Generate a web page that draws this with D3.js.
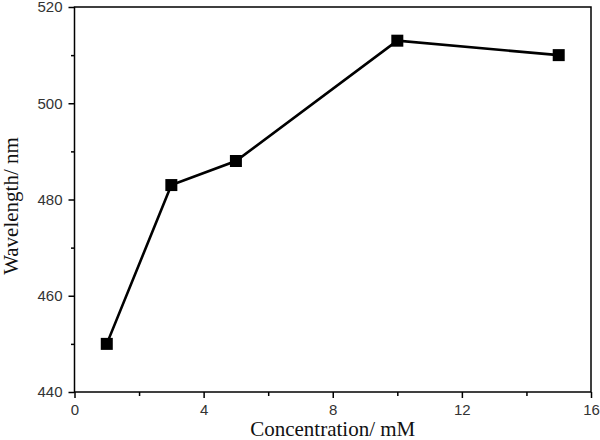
<!DOCTYPE html>
<html>
<head>
<meta charset="utf-8">
<script src="https://cdn.jsdelivr.net/npm/d3@7"></script>
<style>
  html, body { margin: 0; padding: 0; background: #fff; }
  svg { display: block; }
</style>
</head>
<body>
<svg id="chart" width="600" height="440"></svg>
<script>
const concentration = [1, 3, 5, 10, 15];
const wavelength = [450, 483, 488, 513, 510];
const xMajorTicks = [0, 4, 8, 12, 16];
const xMinorTicks = [2, 6, 10, 14];
const yMajorTicks = [440, 460, 480, 500, 520];
const yMinorTicks = [450, 470, 490, 510];
const xTitle = "Concentration/ mM";
const yTitle = "Wavelength/ nm";

const svg = d3.select("#chart");
const L = 74.5, R = 591, T = 7, B = 392;

const x = d3.scaleLinear().domain([0, 16]).range([L, R]);
const y = d3.scaleLinear().domain([440, 520]).range([B, T]);

const tickFont = "'Liberation Sans', Arial, sans-serif";
const titleFont = "'Liberation Serif', 'Times New Roman', serif";

const xAxis = svg.append("g").attr("transform", `translate(0,${B})`)
  .call(d3.axisBottom(x).tickValues(xMajorTicks).tickSize(6).tickPadding(6).tickFormat(d3.format("d")));
const xAxisMinor = svg.append("g").attr("transform", `translate(0,${B})`)
  .call(d3.axisBottom(x).tickValues(xMinorTicks).tickSize(4).tickFormat(""));
const yAxis = svg.append("g").attr("transform", `translate(${L},0)`)
  .call(d3.axisLeft(y).tickValues(yMajorTicks).tickSize(6).tickPadding(6).tickFormat(d3.format("d")));
const yAxisMinor = svg.append("g").attr("transform", `translate(${L},0)`)
  .call(d3.axisLeft(y).tickValues(yMinorTicks).tickSize(3.5).tickFormat(""));

[xAxis, xAxisMinor, yAxis, yAxisMinor].forEach(g => {
  g.select(".domain").remove();
  g.selectAll(".tick line").attr("stroke", "#000").attr("stroke-width", 1.5);
  g.selectAll(".tick text").attr("fill", "#333").style("font-family", tickFont).style("font-size", "15px");
});

svg.append("rect")
  .attr("x", L).attr("y", T).attr("width", R - L).attr("height", B - T)
  .attr("fill", "none").attr("stroke", "#000").attr("stroke-width", 1.5);

const line = d3.line().x((d, i) => x(concentration[i])).y(d => y(d));
svg.append("path")
  .datum(wavelength)
  .attr("d", line)
  .attr("fill", "none")
  .attr("stroke", "#000")
  .attr("stroke-width", 2.6);

const ms = 12;
svg.selectAll("rect.pt")
  .data(wavelength)
  .enter().append("rect")
  .attr("class", "pt")
  .attr("x", (d, i) => x(concentration[i]) - ms / 2)
  .attr("y", d => y(d) - ms / 2)
  .attr("width", ms).attr("height", ms)
  .attr("fill", "#000");

svg.append("text")
  .attr("x", (L + R) / 2).attr("y", 436)
  .attr("text-anchor", "middle")
  .style("font-family", titleFont).style("font-size", "21px")
  .attr("fill", "#111")
  .text(xTitle);

svg.append("text")
  .attr("transform", `translate(18,206) rotate(-90)`)
  .attr("text-anchor", "middle")
  .style("font-family", titleFont).style("font-size", "21px")
  .attr("fill", "#111")
  .text(yTitle);
</script>
</body>
</html>
